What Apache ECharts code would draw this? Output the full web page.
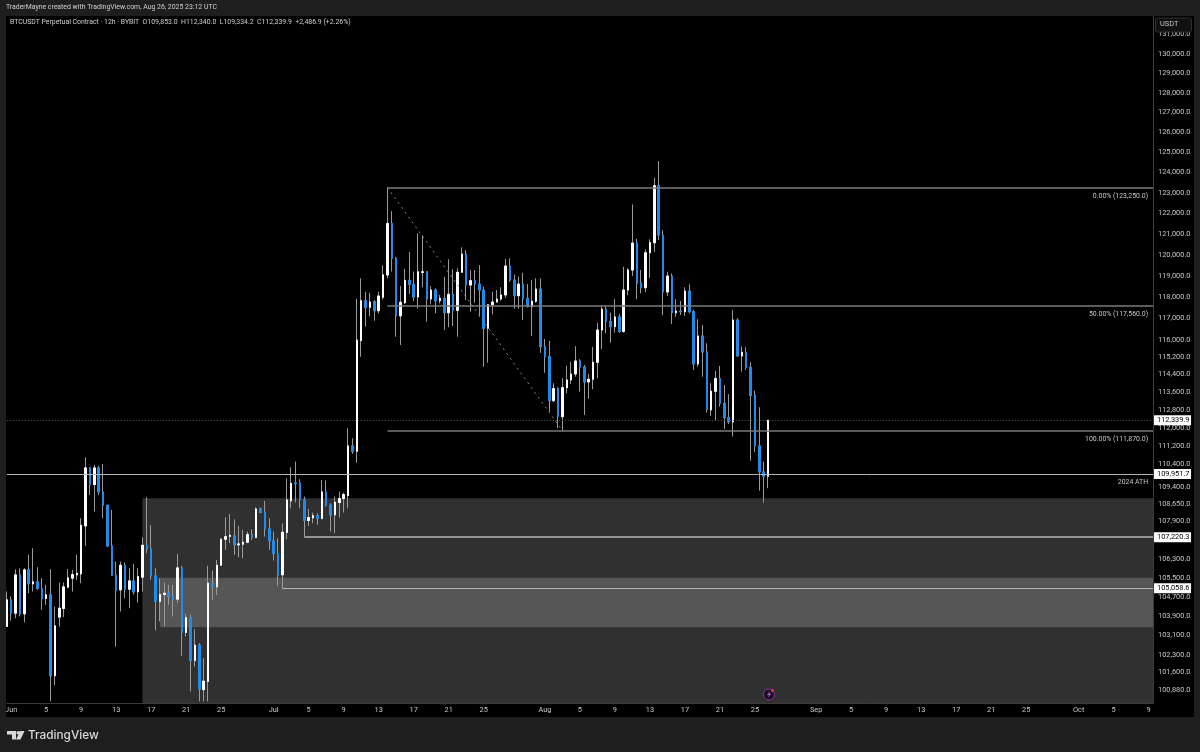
<!DOCTYPE html>
<html>
<head>
<meta charset="utf-8">
<title>BTCUSDT 12h</title>
<script src="https://cdn.jsdelivr.net/npm/echarts@6/dist/echarts.min.js"></script>
<style>
html, body { margin: 0; padding: 0; background: #1e1e1e; }
#chart { width: 1200px; height: 752px; }
</style>
</head>
<body>
<div id="chart"></div>
<script>
// 12h candles, first one is May 31 12:00
var opens = [
103470,104577,104023,105623,103995,105834,105246,105330,105050,104632,
104785,101460,103860,104216,105106,105483,105623,105665,107705,110223,
109493,110223,109174,108596,106850,105609,104994,106030,105022,105371,
104911,105525,106878,106722,105581,104507,104800,104855,104716,104605,
105918,103226,103844,102080,102705,100900,101230,105274,105120,106030,
107134,107250,107280,106893,106921,107006,107335,107206,108437,108293,
107577,107063,106525,105623,107420,108784,109566,109560,108827,107935,
108049,108150,108020,109174,108596,108178,108712,108885,109016,111193,
110957,115956,117818,117508,117771,117349,117978,119030,121505,119824,
117108,117725,118779,118590,117993,119153,119186,117898,118321,117818,
117930,117256,118118,117368,119160,120030,118557,118760,118605,118321,
116530,117630,117757,117898,118088,119457,118793,118053,118605,117912,
117537,117790,118368,115680,115220,113217,113760,112498,113805,114155,
114428,115022,114747,114064,114187,114963,116451,117415,116838,116605,
117060,116390,118321,119267,120557,118650,118430,120092,120571,123340,
120942,118227,118982,117256,117335,117302,118274,117302,114885,116173,
115435,112800,113642,114215,113100,112455,112262,116916,115250,115405,
114735,113460,111193,110047,109853
];
var closes = [
104577,104023,105623,103995,105834,105246,105330,105050,104632,104785,
101460,103500,104230,105120,105497,105637,105693,107733,110223,109493,
110223,109174,108596,106850,105609,104966,106030,105022,105371,104911,
105553,106878,106722,105581,104507,104800,104855,104716,104605,105918,
103226,103844,102080,102705,100920,101243,105274,105120,106030,107134,
107250,107306,106893,106935,107006,107335,107206,108437,108293,107577,
107063,106525,105623,107434,108827,109551,109537,108827,107935,108064,
108150,108020,109174,108596,108178,108726,108885,109059,111193,110957,
115988,117818,117508,117757,117349,118040,119040,121505,119824,117108,
117743,118779,118590,117993,119186,119186,117898,118321,117818,117930,
117256,118118,117368,119160,120030,118557,118760,118605,118321,116530,
117630,117757,117898,118088,119457,118793,118053,118605,117912,117537,
117790,118368,115680,115220,113217,113760,112498,113805,114155,114428,
115022,114747,114064,114187,114963,116451,117415,116838,116605,117060,
116390,118321,119267,120557,118650,118430,120092,120571,123340,120942,
118227,118982,117256,117335,117302,118274,117302,114885,116173,115435,
112830,113642,114215,113100,112455,112262,116916,115250,115420,114735,
113460,111193,110047,109853,112339.9
];
var lows = [
103470,103720,103816,103886,103640,104855,104925,104994,104161,104370,
100430,101070,103473,103860,105064,104925,105413,105274,106850,109044,
108322,109044,108035,106800,105581,102650,104092,104646,104230,104800,
104467,104925,106539,105413,103308,103680,103473,104370,103886,104439,
102270,103060,100827,101836,100430,100430,100430,104577,104772,106002,
106680,106964,106468,106369,106327,106964,107106,107177,108250,107250,
106680,106228,105162,105060,107134,108466,108712,108466,107249,107706,
107820,107749,107992,108538,107463,107392,108064,108279,108466,110840,
110456,115220,116605,117090,116883,117228,117884,118873,119200,116140,
115757,117663,118133,117790,117460,118448,116838,117650,117228,117696,
116451,116576,116637,116140,119160,117851,117302,117725,117060,114760,
114943,117180,117725,117818,117945,118713,117443,117443,116916,117508,
116173,117725,115400,114480,112723,113145,111980,111870,113552,113973,
114305,113625,112575,113308,113733,114232,115573,116300,115863,116328,
116328,116328,118075,118982,117884,118165,118227,118888,120125,120701,
117135,118040,116730,117070,117150,117105,117228,114610,114760,114305,
112678,112530,112320,112950,111949,112172,111610,115250,114532,114610,
110544,110915,109230,108710,109334.2
];
var highs = [
104925,104716,105862,105904,105904,106468,106750,105946,105483,105204,
105862,104300,105302,105302,105862,105834,106468,108035,110692,110270,
110355,110310,110400,108610,108394,106186,106186,106143,105904,106087,
105904,107220,108943,107733,105904,105483,105302,105204,105204,106510,
106002,103995,103955,103362,102787,102175,106002,105806,106256,107177,
108078,108222,107991,107705,107534,107463,107562,108509,108495,108784,
108035,107463,107177,107819,109770,110252,110502,109726,108972,108437,
108279,108250,109697,109668,108683,108972,109188,109145,111978,111533,
117898,118873,118240,118194,117851,118240,119490,123250,122103,119900,
118510,119329,120130,119200,121020,120925,119200,118510,118401,118088,
118950,119776,119300,119348,120350,120221,119267,119267,119505,118478,
117663,118240,118321,118448,119800,119824,119054,118950,119139,118605,
118793,118873,118873,116034,115956,114005,113823,114232,114807,114990,
115698,115100,114839,114428,115665,116790,117570,117570,117256,117884,
117195,119425,119348,122430,120764,119267,120255,120735,123734,124560,
121183,119186,119105,117884,117804,118448,118590,117382,116950,116683,
115835,114005,114565,114793,113928,113507,117382,116994,115680,115650,
114963,113670,112920,110500,112340
];

// price scale labels, they are not evenly spaced
var yTicks = [
131000,130000,129000,128000,127000,126000,125000,124000,123000,122000,
121000,120000,119000,118000,117000,116000,115200,114400,113600,112800,
112000,111200,110400,109400,108650,107900,106300,105500,104700,103900,
103100,102300,101600,100880
];
var yMin = 100365;
var yMax = 131975;

// time scale labels. bar 1 is Jun 1, 2 bars a day
var xTickIndex = [
1,9,17,25,33,41,49,
61,69,77,85,93,101,109,
123,131,139,147,155,163,171,
185,193,201,209,217,225,233,
245,253,261
];
var xTickText = [
'Jun','5','9','13','17','21','25',
'Jul','5','9','13','17','21','25',
'Aug','5','9','13','17','21','25',
'Sep','5','9','13','17','21','25',
'Oct','5','9'
];
var barCount = 263;

// fib levels and the other horizontal levels
var fibPrices = [123250, 117560, 111870];
var fibTexts = ['0.00% (123,250.0)', '50.00% (117,560.0)', '100.00% (111,870.0)'];
var fibStart = 87;
var fibEnd = 127;
var lastPrice = 112339.9;
var athPrice = 109951.7;
var level1Price = 107220.3;
var level1Start = 68;
var level2Price = 105058.6;
var level2Start = 63;

// demand zones
var zoneOuter = { start: 31, top: 108900 };
var zoneInner = { start: 35, top: 105497, bottom: 103438 };

var headerText = 'TraderMayne created with TradingView.com, Aug 26, 2025 23:12 UTC';
var legendText = 'BTCUSDT Perpetual Contract \u00b7 12h \u00b7 BYBIT  O109,853.0  H112,340.0  L109,334.2  C112,339.9  +2,486.9 (+2.26%)';

var FONT = 'Roboto';
var TEXT = '#c8c8c8';
var GREY_LINE = '#7a7a7a';
var LIGHT_LINE = '#b4b4b4';

function fmt(v) {
    return v.toLocaleString('en-US', { minimumFractionDigits: 1, maximumFractionDigits: 1 });
}

var categories = [];
for (var i = 0; i < barCount; i++) {
    categories.push(String(i));
}
var tickMap = {};
for (var i = 0; i < xTickText.length; i++) {
    tickMap[xTickIndex[i]] = xTickText[i];
}

// wicks and bodies are drawn as two layers, wick grey and body solid
var wickData = [];
var bodyData = [];
for (var i = 0; i < opens.length; i++) {
    wickData.push([opens[i], closes[i], lows[i], highs[i]]);
    bodyData.push([opens[i], closes[i], Math.min(opens[i], closes[i]), Math.max(opens[i], closes[i])]);
}

function hline(price, start, color, width, type, label) {
    return [
        {
            xAxis: start, yAxis: price,
            lineStyle: { color: color, width: width, type: type },
            label: label || { show: false }
        },
        { xAxis: barCount - 1, yAxis: price }
    ];
}

function tagLabel(price) {
    return {
        show: true, position: 'end', distance: 1,
        formatter: fmt(price),
        color: '#000', backgroundColor: '#fff',
        fontFamily: FONT, fontSize: 7.4,
        padding: [2, 2, 1, 3], width: 32
    };
}

function sideLabel(text) {
    return {
        show: true, position: 'insideEndBottom', distance: 5,
        formatter: text,
        color: TEXT, fontFamily: FONT, fontSize: 6.9
    };
}

var levelLines = [];
for (var i = 0; i < fibPrices.length; i++) {
    levelLines.push(hline(fibPrices[i], fibStart, GREY_LINE, 1.5, 'solid', sideLabel(fibTexts[i])));
}
levelLines.push(hline(lastPrice, 0, '#555', 1, [1, 2], tagLabel(lastPrice)));
levelLines.push(hline(athPrice, 0, LIGHT_LINE, 1, 'solid', tagLabel(athPrice)));
levelLines.push(hline(athPrice, 0, 'rgba(0,0,0,0)', 1, 'solid', sideLabel('2024 ATH')));
levelLines.push(hline(level1Price, level1Start, LIGHT_LINE, 1.5, 'solid', tagLabel(level1Price)));
levelLines.push(hline(level2Price, level2Start, LIGHT_LINE, 1, 'solid', tagLabel(level2Price)));
// dashed fib trend line
levelLines.push([
    { xAxis: fibStart, yAxis: fibPrices[0], lineStyle: { color: '#8a8a8a', width: 1, type: [2, 4] }, label: { show: false } },
    { xAxis: fibEnd, yAxis: fibPrices[2] }
]);

var option = {
    animation: false,
    backgroundColor: '#1e1e1e',
    grid: { left: 6.8, top: 16, width: 1146.25, height: 687, containLabel: false },
    xAxis: {
        type: 'category',
        data: categories,
        boundaryGap: false,
        axisLine: { show: true, onZero: false, lineStyle: { color: '#3c3c3c', width: 1 } },
        axisTick: { show: false },
        splitLine: { show: false },
        axisLabel: {
            interval: function(index) { return tickMap[index] !== undefined; },
            formatter: function(value, index) { return tickMap[index]; },
            hideOverlap: false,
            showMinLabel: true,
            showMaxLabel: true,
            color: TEXT, fontFamily: FONT, fontSize: 7.4, margin: 4
        }
    },
    yAxis: {
        type: 'log',
        logBase: 10,
        position: 'right',
        min: yMin,
        max: yMax,
        axisLine: { show: true, onZero: false, lineStyle: { color: '#3c3c3c', width: 1 } },
        axisTick: { show: false },
        splitLine: { show: false },
        minorTick: { show: false },
        axisLabel: {
            customValues: yTicks,
            hideOverlap: false,
            formatter: function(v) { return fmt(v); },
            color: TEXT, fontFamily: FONT, fontSize: 7.4, margin: 5
        }
    },
    series: [
        {
            name: 'zones',
            type: 'line',
            data: [],
            z: 1,
            silent: true,
            markArea: {
                silent: true,
                data: [
                    [
                        { xAxis: zoneOuter.start, yAxis: zoneOuter.top, itemStyle: { color: '#303030' } },
                        { xAxis: barCount - 1, yAxis: yMin }
                    ],
                    [
                        { xAxis: zoneInner.start, yAxis: zoneInner.top, itemStyle: { color: '#565656' } },
                        { xAxis: barCount - 1, yAxis: zoneInner.bottom }
                    ]
                ]
            }
        },
        {
            name: 'levels',
            type: 'line',
            data: [],
            z: 2,
            silent: true,
            markLine: {
                silent: true,
                symbol: 'none',
                data: levelLines
            }
        },
        {
            name: 'wicks',
            type: 'candlestick',
            data: wickData,
            barWidth: 2,
            clip: false,
            z: 3,
            silent: true,
            itemStyle: {
                color: 'rgba(0,0,0,0)', color0: 'rgba(0,0,0,0)',
                borderColor: '#9a9a9a', borderColor0: '#9a9a9a', borderColorDoji: '#9a9a9a',
                borderWidth: 1
            }
        },
        {
            name: 'BTCUSDT',
            type: 'candlestick',
            data: bodyData,
            barWidth: 2,
            clip: false,
            z: 4,
            silent: true,
            itemStyle: {
                color: '#ffffff', color0: '#1f8cec',
                borderColor: '#ffffff', borderColor0: '#1f8cec', borderColorDoji: '#1f8cec',
                borderWidth: 1
            }
        }
    ],
    graphic: [
        // black chart panel, sits behind everything
        { type: 'rect', z: -10, silent: true, shape: { x: 6, y: 16, width: 1188, height: 701 }, style: { fill: '#000' } },
        { type: 'rect', z: 50, silent: true, shape: { x: 0, y: 16, width: 6, height: 701 }, style: { fill: '#1e1e1e' } },
        { type: 'text', z: 60, silent: true, x: 6, y: 4, style: { text: headerText, fill: '#d0d0d0', font: '6.9px ' + FONT } },
        { type: 'text', z: 60, silent: true, x: 10, y: 19, style: { text: legendText, fill: '#d0d0d0', font: '6.9px ' + FONT } },
        { type: 'rect', z: 60, silent: true, shape: { x: 1155.5, y: 18, width: 36, height: 14, r: 2 }, style: { fill: '#111', stroke: '#333', lineWidth: 1 } },
        { type: 'text', z: 61, silent: true, x: 1160, y: 21, style: { text: 'USDT', fill: '#c8c8c8', font: '7.4px ' + FONT } },
        // bottom-left logo
        { type: 'polygon', z: 60, silent: true, shape: { points: [[7,731],[16,731],[16,739.5],[12,739.5],[12,734.5],[7,734.5]] }, style: { fill: '#d8d8d8' } },
        { type: 'circle', z: 60, silent: true, shape: { cx: 18.2, cy: 732.8, r: 1.8 }, style: { fill: '#d8d8d8' } },
        { type: 'polygon', z: 60, silent: true, shape: { points: [[20,731],[24.5,731],[20.5,739.5],[16,739.5]] }, style: { fill: '#d8d8d8' } },
        { type: 'text', z: 60, silent: true, x: 28, y: 729, style: { text: 'TradingView', fill: '#d8d8d8', font: '500 11.8px Inter' } },
        // news badge on the time scale edge
        { type: 'circle', z: 60, silent: true, shape: { cx: 769, cy: 694.5, r: 5.5 }, style: { fill: '#1a0f20', stroke: '#8e2fa8', lineWidth: 1 } },
        { type: 'polygon', z: 61, silent: true, shape: { points: [[770,691],[767,695],[769,695],[768,698],[771.2,693.8],[769.3,693.8]] }, style: { fill: '#b05ad0' } },
        { type: 'circle', z: 62, silent: true, shape: { cx: 772.5, cy: 690.5, r: 1.5 }, style: { fill: '#f23645' } }
    ]
};

var chart = echarts.init(document.getElementById('chart'), null, { renderer: 'canvas' });
chart.setOption(option);
</script>
</body>
</html>
